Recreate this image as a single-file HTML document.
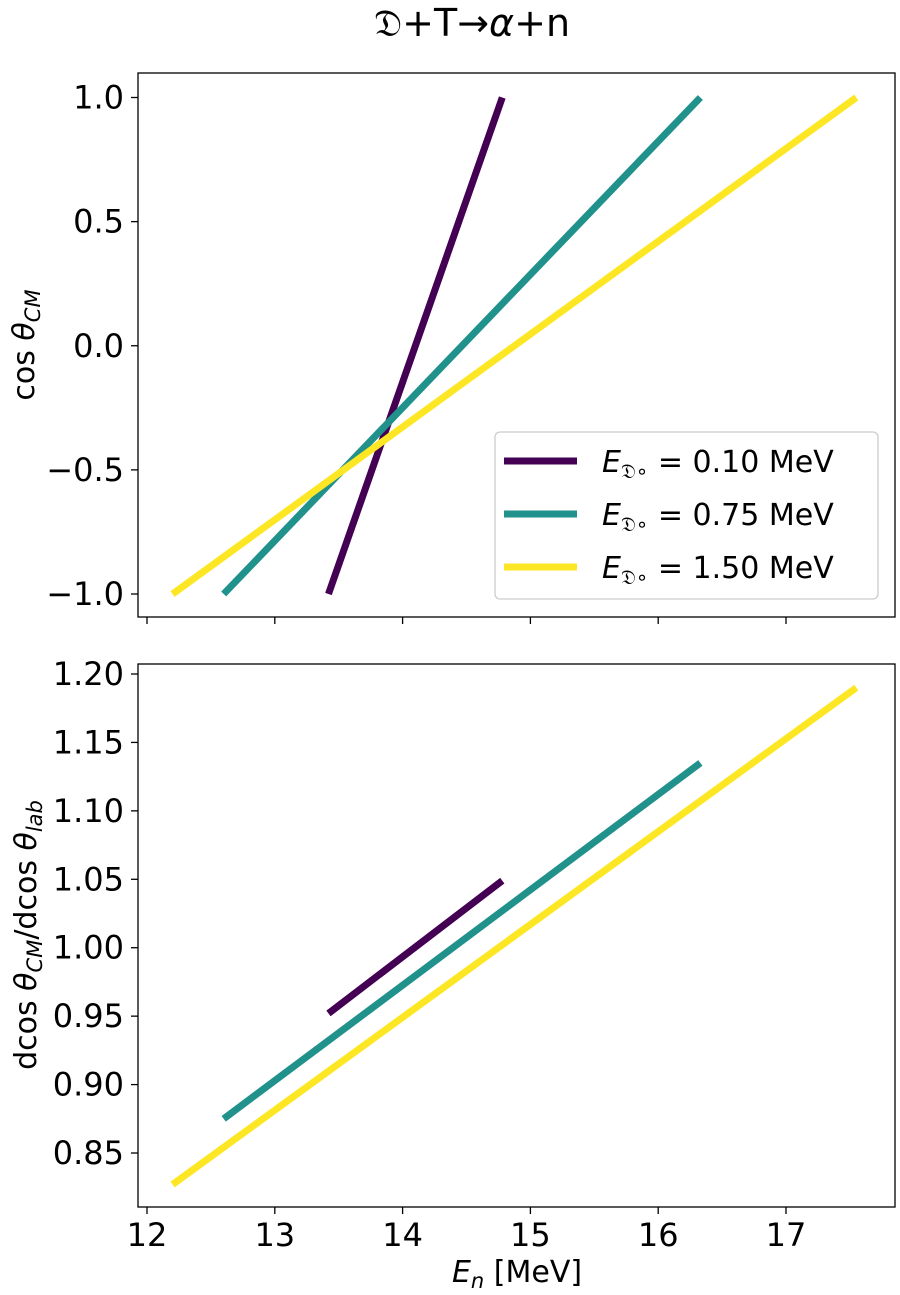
<!DOCTYPE html>
<html><head><meta charset="utf-8"><style>
body{margin:0;background:#fff}
svg{display:block;font-family:"DejaVu Sans","Liberation Sans",sans-serif}
</style></head><body>
<svg id="chart" width="900" height="1295" viewBox="0 0 900 1295">
<text x="472" y="36" font-size="38" text-anchor="middle">𝔇+T→<tspan font-style="italic">α</tspan>+n</text>
<g id="topPanel"></g>
<g id="botPanel"></g>
</svg>
<script>
const seriesNames = ["0.10","0.75","1.50"];
const seriesColors = ["#440154","#21918c","#fde725"];
const enStart = [13.42, 12.60, 12.20];
const enEnd = [14.78, 16.33, 17.55];
const cosStart = [-1, -1, -1];
const cosEnd = [1, 1, 1];
const jacStart = [0.952, 0.875, 0.827];
const jacEnd = [1.049, 1.135, 1.190];
const xTicks = [12,13,14,15,16,17];
const topTicks = [1.0,0.5,0.0,-0.5,-1.0];
const topTickLabels = ["1.0","0.5","0.0","−0.5","−1.0"];
const botTicks = [1.20,1.15,1.10,1.05,1.00,0.95,0.90,0.85];
const botTickLabels = ["1.20","1.15","1.10","1.05","1.00","0.95","0.90","0.85"];

const NS="http://www.w3.org/2000/svg";
const L=138,R=895;
const xs=v=>147+(v-12)*127.8;
const yTop=v=>97.5+(1-v)*248.25;
const yBot=v=>674+(1.20-v)/0.05*68.43;
function mk(p,tag,attrs){const e=document.createElementNS(NS,tag);for(const k in attrs)e.setAttribute(k,attrs[k]);p.appendChild(e);return e;}

function panel(g,T,B,ys,ticks,labels,ys0,ys1,showX,prefix){
  const frame=mk(g,'rect',{x:L,y:T,width:R-L,height:B-T,fill:'none',stroke:'#000','stroke-width':1.3});
  
  
  ticks.forEach((t,i)=>{
    const y=ys(t);
    const tk=mk(g,'line',{x1:L-7,x2:L,y1:y,y2:y,stroke:'#000','stroke-width':1.3});
    
    
    const tx=mk(g,'text',{x:L-14,y:y+11,'font-size':32,'text-anchor':'end'});
    tx.textContent=labels[i];
    
    
  });
  xTicks.forEach(t=>{
    const x=xs(t);
    const tk=mk(g,'line',{x1:x,x2:x,y1:B,y2:B+7,stroke:'#000','stroke-width':1.3});
    
    
    if(showX){
      const tx=mk(g,'text',{x:x,y:B+39,'font-size':32,'text-anchor':'middle'});
      tx.textContent=String(t);
      
      
    }
  });
  seriesNames.forEach((n,i)=>{
    const ln=mk(g,'line',{x1:xs(enStart[i]),y1:ys(ys0[i]),x2:xs(enEnd[i]),y2:ys(ys1[i]),stroke:seriesColors[i],'stroke-width':7});
    
    
  });
}
const topG=document.getElementById('topPanel'), botG=document.getElementById('botPanel');
panel(topG,73,617,yTop,topTicks,topTickLabels,cosStart,cosEnd,false,'top');
panel(botG,664,1207,yBot,botTicks,botTickLabels,jacStart,jacEnd,true,'bottom');

let t=mk(topG,'text',{transform:'translate(34,345) rotate(-90)','font-size':30,'text-anchor':'middle'});
t.innerHTML='cos <tspan font-style="italic">θ</tspan><tspan font-style="italic" font-size="21" dy="6">CM</tspan>';


t=mk(botG,'text',{transform:'translate(36,935) rotate(-90)','font-size':30,'text-anchor':'middle'});
t.innerHTML='dcos <tspan font-style="italic">θ</tspan><tspan font-style="italic" font-size="21" dy="6">CM</tspan><tspan dy="-6">/dcos </tspan><tspan font-style="italic">θ</tspan><tspan font-style="italic" font-size="21" dy="6">lab</tspan>';


t=mk(botG,'text',{x:517,y:1282,'font-size':30,'text-anchor':'middle'});
t.innerHTML='<tspan font-style="italic">E</tspan><tspan font-style="italic" font-size="21" dy="6">n</tspan><tspan dy="-6"> [MeV]</tspan>';



const lg=mk(topG,'g',{});


const lr=mk(lg,'rect',{x:495,y:432,width:383,height:167,rx:5,fill:'#fff',stroke:'#ccc','stroke-width':1.3});


seriesNames.forEach((n,i)=>{
  const y=461+i*53;
  const ll=mk(lg,'line',{x1:504,x2:577,y1:y,y2:y,stroke:seriesColors[i],'stroke-width':7});
  
  
  const lt=mk(lg,'text',{x:602,y:y+11,'font-size':30});
  lt.innerHTML='<tspan font-style="italic">E</tspan><tspan font-size="20" dy="6">𝔇∘</tspan><tspan dy="-6"> = '+n+' MeV</tspan>';
  
  
});
</script>
</body></html>
